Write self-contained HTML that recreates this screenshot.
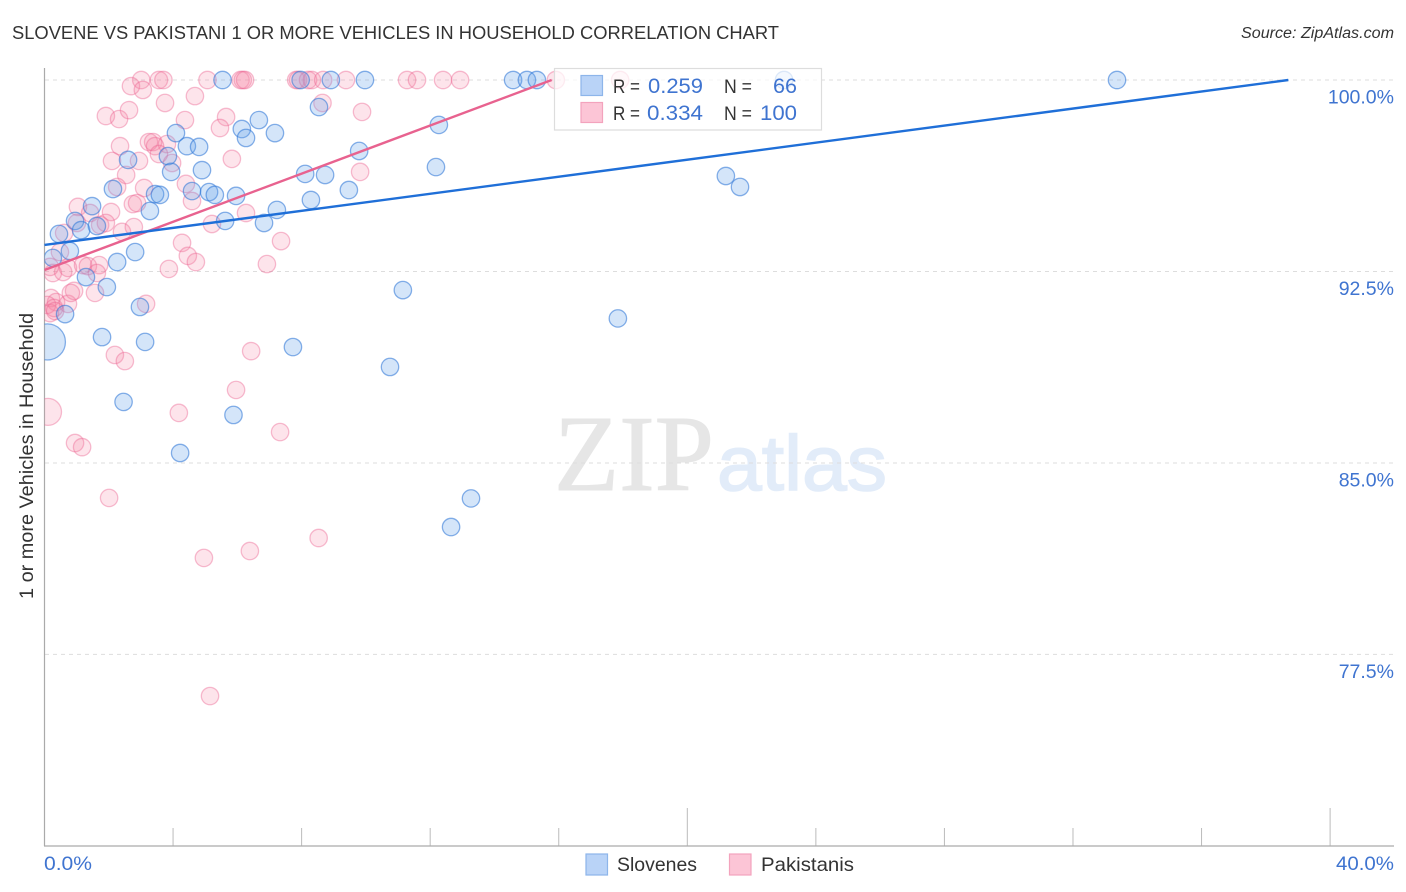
<!DOCTYPE html>
<html lang="en">
<head>
<meta charset="utf-8">
<title>Slovene vs Pakistani correlation chart</title>
<style>
html,body{margin:0;padding:0;background:#fff;}
svg{display:block;font-family:"Liberation Sans",sans-serif;}
</style>
</head>
<body>
<svg id="chart" width="1406" height="892" viewBox="0 0 1406 892" xmlns="http://www.w3.org/2000/svg">
  <defs>
    <clipPath id="plot-clip"><rect x="44.5" y="56" width="1350" height="790"/></clipPath>
  </defs>
  <rect x="0" y="0" width="1406" height="892" fill="#fff"/>
  <text x="12" y="39" font-size="18" fill="#333" textLength="767" lengthAdjust="spacingAndGlyphs">SLOVENE VS PAKISTANI 1 OR MORE VEHICLES IN HOUSEHOLD CORRELATION CHART</text>
  <text x="1394" y="38" font-size="15.5" font-style="italic" fill="#333" text-anchor="end" textLength="153" lengthAdjust="spacingAndGlyphs">Source: ZipAtlas.com</text>
  <g>
    <text x="554" y="490" font-family="'Liberation Serif',serif" font-size="108" fill="#e6e6e6" stroke="#e6e6e6" stroke-width="1" textLength="160" lengthAdjust="spacingAndGlyphs">ZIP</text>
    <text x="717" y="490" font-size="78" fill="#e2ecf9" stroke="#e2ecf9" stroke-width="1.5" textLength="170" lengthAdjust="spacingAndGlyphs">atlas</text>
  </g>
  <g id="grid"></g>
  <g id="y-labels"></g>
  <g id="x-ticks"></g>
  <line x1="44.5" y1="68" x2="44.5" y2="846" stroke="#aaa" stroke-width="1.2"/>
  <line x1="44" y1="846" x2="1394" y2="846" stroke="#aaa" stroke-width="1.2"/>
  <g id="points" clip-path="url(#plot-clip)"></g>
  <g id="trends"></g>
  <text transform="translate(33,456) rotate(-90)" font-size="19" fill="#333" text-anchor="middle" textLength="286" lengthAdjust="spacingAndGlyphs">1 or more Vehicles in Household</text>
  <text x="44" y="870" font-size="19.5" fill="#3f74d0" textLength="48" lengthAdjust="spacingAndGlyphs">0.0%</text>
  <text x="1394" y="870" font-size="19.5" fill="#3f74d0" text-anchor="end" textLength="58" lengthAdjust="spacingAndGlyphs">40.0%</text>

  <g>
    <rect x="554.5" y="68.5" width="267" height="61.5" fill="#fff" fill-opacity="0.72" stroke="#ddd" stroke-width="1.2"/>
    <rect x="581" y="75.5" width="21.5" height="20" fill="#b9d3f7" stroke="#8db5ea" stroke-width="1.2"/>
    <rect x="581" y="102.5" width="21.5" height="20" fill="#fcc5d6" stroke="#f3a3bd" stroke-width="1.2"/>
    <text x="613" y="93" font-size="19" fill="#333" textLength="27" lengthAdjust="spacingAndGlyphs">R =</text>
    <text x="648" y="93" font-size="21" fill="#3f74d0" textLength="55" lengthAdjust="spacingAndGlyphs">0.259</text>
    <text x="724" y="93" font-size="19" fill="#333" textLength="28" lengthAdjust="spacingAndGlyphs">N =</text>
    <text x="797" y="93" font-size="21" fill="#3f74d0" text-anchor="end" textLength="24" lengthAdjust="spacingAndGlyphs">66</text>
    <text x="613" y="120" font-size="19" fill="#333" textLength="27" lengthAdjust="spacingAndGlyphs">R =</text>
    <text x="647" y="120" font-size="21" fill="#3f74d0" textLength="56" lengthAdjust="spacingAndGlyphs">0.334</text>
    <text x="724" y="120" font-size="19" fill="#333" textLength="28" lengthAdjust="spacingAndGlyphs">N =</text>
    <text x="797" y="120" font-size="21" fill="#3f74d0" text-anchor="end" textLength="37" lengthAdjust="spacingAndGlyphs">100</text>
  </g>

  <g>
    <rect x="586" y="854" width="21.5" height="21" fill="#b9d3f7" stroke="#8db5ea" stroke-width="1.2"/>
    <text x="617" y="871" font-size="19.5" fill="#333" textLength="80" lengthAdjust="spacingAndGlyphs">Slovenes</text>
    <rect x="729.5" y="854" width="21.5" height="21" fill="#fcc5d6" stroke="#f3a3bd" stroke-width="1.2"/>
    <text x="761" y="871" font-size="19.5" fill="#333" textLength="93" lengthAdjust="spacingAndGlyphs">Pakistanis</text>
  </g>
</svg>
<script>
const yTickValues = [100, 92.5, 85, 77.5];
const yTickLabels = ["100.0%", "92.5%", "85.0%", "77.5%"];
const xTickValues = [4, 8, 12, 16, 20, 24, 28, 32, 36, 40];
const xMajorTicks = [20, 40];

const sloveneX = [0.09,5.54,7.97,8.91,9.97,14.58,15.01,15.32,23.01,33.37,4.09,4.43,4.81,2.60,3.84,3.94,4.90,2.13,3.44,3.59,4.59,5.12,5.30,5.96,3.28,5.62,6.83,7.23,1.48,0.95,1.14,1.63,0.45,0.79,0.26,2.82,2.26,1.29,1.94,2.97,0.64,1.79,3.13,7.73,6.14,6.27,6.67,7.17,8.29,8.73,8.11,9.47,9.79,8.54,12.27,12.18,11.15,10.75,17.84,21.20,21.64,12.65,13.27,5.88,2.46,4.22];
const sloveneY = [89.74,100,100,100,100,100,100,100,100,100,97.92,97.41,97.38,96.87,97.02,96.40,96.47,95.73,95.53,95.50,95.65,95.61,95.50,95.46,94.87,94.48,94.40,94.91,95.06,94.48,94.12,94.28,93.97,93.30,93.03,93.26,92.87,92.28,91.89,91.11,90.83,89.93,89.74,89.54,98.08,97.73,98.43,97.92,95.30,96.28,96.32,95.69,97.22,98.94,98.24,96.59,91.77,88.76,90.66,96.24,95.81,82.49,83.61,86.88,87.39,85.39];
const sloveneWeight = [4.3];

const pakistaniX = [0.11,3.01,3.56,3.70,5.07,6.10,6.17,6.24,7.83,7.89,8.20,8.32,8.67,9.38,11.28,11.59,12.40,12.93,15.91,17.91,2.69,3.06,3.75,4.68,1.91,2.32,2.63,4.37,5.65,5.46,2.35,3.25,3.38,3.81,3.44,3.56,3.97,2.10,2.94,5.83,2.54,2.26,3.10,4.40,4.59,2.75,2.88,2.07,1.04,1.42,1.01,1.73,1.91,2.41,2.78,5.21,6.27,7.36,4.28,4.46,4.71,3.87,6.92,0.48,0.26,0.58,0.17,0.73,1.20,1.35,1.70,1.63,0.20,0.36,0.73,0.92,0.82,1.57,3.16,0.17,0.08,0.30,0.33,0.61,2.19,2.50,0.95,1.17,2.01,4.18,5.96,6.43,7.33,4.96,6.39,8.53,5.15,8.65,9.88,9.82];
const pakistaniY = [87.00,100,100,100,100,100,100,100,100,100,100,100,100,100,100,100,100,100,100,100,99.76,99.61,99.10,99.37,98.59,98.47,98.82,98.43,98.55,98.12,97.41,97.57,97.57,97.49,97.41,97.10,96.75,96.83,96.83,96.91,96.28,95.81,95.77,95.93,95.26,95.14,95.18,94.83,95.03,94.79,94.40,94.32,94.40,94.05,94.24,94.36,94.79,93.69,93.62,93.11,92.87,92.60,92.79,93.26,92.44,92.48,92.68,92.64,92.75,92.71,92.75,92.44,91.46,91.30,91.23,91.74,91.66,91.66,91.23,90.87,91.19,91.07,90.95,94.01,89.23,88.99,85.78,85.62,83.63,86.96,87.86,89.38,86.21,81.28,81.55,82.06,75.87,99.10,98.75,96.40];
const pakistaniWeight = [2.4];

const sloveneTrendX = [0, 38.7];
const sloveneTrendY = [93.54, 100];
const pakistaniTrendX = [0, 15.78];
const pakistaniTrendY = [92.56, 100];

const NS = "http://www.w3.org/2000/svg";
const BASE_R = 8.7;
function xScale(v) { return 44.5 + v * 32.14; }
function yScale(v) { return 80 + (100 - v) * 25.53; }
function make(tag, attrs, parent) {
  const el = document.createElementNS(NS, tag);
  for (const k in attrs) el.setAttribute(k, attrs[k]);
  parent.appendChild(el);
  return el;
}

const grid = document.getElementById("grid");
const yLabels = document.getElementById("y-labels");
yTickValues.forEach(function (v, i) {
  const line = make("line", {x1: 45, x2: 1394, y1: yScale(v), y2: yScale(v), stroke: "#ddd", "stroke-width": 1, "stroke-dasharray": "4 4"}, grid);
  
  
  const label = make("text", {x: 1394, y: yScale(v) + 23.5, "font-size": 19.5, fill: "#3f74d0", "text-anchor": "end"}, yLabels);
  label.textContent = yTickLabels[i];
  
  
});

const xTicks = document.getElementById("x-ticks");
xTickValues.forEach(function (v) {
  const top = xMajorTicks.indexOf(v) >= 0 ? 808 : 828;
  const tick = make("line", {x1: xScale(v), x2: xScale(v), y1: top, y2: 846, stroke: "#bbb", "stroke-width": 1}, xTicks);
  
  
});

const points = document.getElementById("points");
function drawSeries(xs, ys, weights, fill, stroke, name) {
  xs.forEach(function (x, i) {
    const w = weights[i] === undefined ? 1 : weights[i];
    const c = make("circle", {cx: xScale(x), cy: yScale(ys[i]), r: BASE_R * Math.sqrt(w), fill: fill, stroke: stroke, "stroke-width": 1.3}, points);
    
    
  });
}
drawSeries(pakistaniX, pakistaniY, pakistaniWeight, "rgba(246,130,165,0.22)", "rgba(236,100,145,0.42)", "pakistani-point");
drawSeries(sloveneX, sloveneY, sloveneWeight, "rgba(100,160,235,0.28)", "rgba(50,120,215,0.58)", "slovene-point");

const trends = document.getElementById("trends");
const pakLine = make("line", {x1: xScale(pakistaniTrendX[0]), y1: yScale(pakistaniTrendY[0]), x2: xScale(pakistaniTrendX[1]), y2: yScale(pakistaniTrendY[1]), stroke: "#e8628f", "stroke-width": 2.4}, trends);


const sloLine = make("line", {x1: xScale(sloveneTrendX[0]), y1: yScale(sloveneTrendY[0]), x2: xScale(sloveneTrendX[1]), y2: yScale(sloveneTrendY[1]), stroke: "#1f6fd8", "stroke-width": 2.4}, trends);


</script>
</body>
</html>
